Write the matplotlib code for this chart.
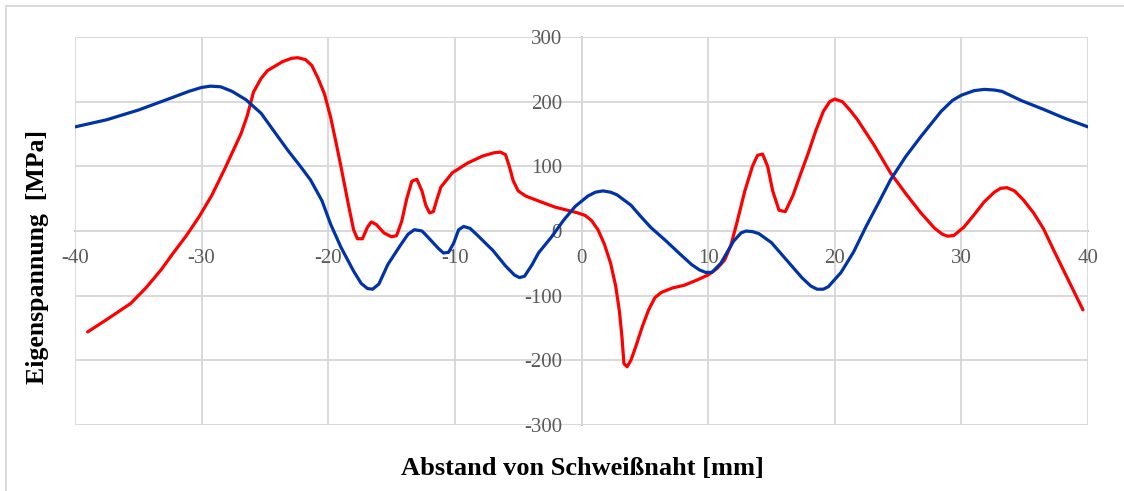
import matplotlib.pyplot as plt
from matplotlib.lines import Line2D

# Distance from weld seam [mm] and residual stress [MPa]
blue_x = [-40, -37.5, -35, -32.5, -31, -30, -29.3, -28.5, -27.6, -26.5, -25.3, -24.2, -23.2,
          -22.2, -21.4, -20.5, -19.8, -19, -18, -17.4, -16.9, -16.5, -16, -15.3, -14.3, -13.7,
          -13.2, -12.6, -12.2, -11.3, -10.9, -10.5, -10.1, -9.7, -9.3, -8.8, -8.3, -7, -6,
          -5.3, -4.9, -4.5, -3.9, -3.4, -2.4, -1.4, -0.5, 0.5, 1.1, 1.7, 2.3, 2.8, 3.9,
          4.7, 5.5, 6.6, 7.8, 8.7, 9.3, 9.8, 10.3, 11, 12, 12.6, 13, 13.5, 14, 15, 16.2,
          17.4, 18.1, 18.6, 19.1, 19.5, 20.5, 21.5, 22.5, 23.5, 24.4, 25.6, 26.8, 28.4, 29.3,
          30, 31, 31.8, 32.6, 33.2, 34.7, 36.5, 38.2, 40]
blue_y = [161, 172, 187, 205, 216, 222, 224, 223, 216, 203, 182, 152, 125,
          100, 79, 47, 10, -25, -62, -81, -89, -90, -82, -52, -22, -5,
          2, 0, -8, -27, -34, -33, -19, 2, 7, 4, -5, -30, -54,
          -68, -72, -70, -52, -34, -10, 17, 38, 54, 60, 62, 60, 56, 40,
          22, 5, -14, -36, -52, -60, -64, -64, -50, -16, -3, 0, -1, -4, -18, -45,
          -72, -85, -90, -90, -86, -64, -32, 8, 45, 79, 115, 146, 185, 202,
          210, 217, 219, 218, 216, 202, 188, 174, 161]

red_x = [-39, -37.5, -35.6, -34.4, -33.2, -32.2, -31.2, -30.2, -29.2, -28.2, -26.9, -26.4,
         -25.9, -25.3, -24.8, -23.6, -22.9, -22.4, -21.8, -21.3, -20.8, -20.3, -19.8, -19.4,
         -19, -18.4, -18, -17.7, -17.3, -16.9, -16.6, -16.2, -15.6, -15, -14.6, -14.2,
         -13.8, -13.4, -13, -12.6, -12.3, -12, -11.7, -11.4, -11.1, -10.2, -9, -7.8, -6.9,
         -6.4, -6, -5.7, -5.4, -5, -4.4, -3.2, -2.1, -1.1, -0.3, 0.3, 0.8, 1.3, 1.8, 2.3,
         2.7, 3.0, 3.2, 3.35, 3.6, 3.9, 4.3, 4.8, 5.3, 5.8, 6.3, 7.2, 8.1, 9.1, 10, 10.7,
         11.3, 11.8, 12.3, 12.9, 13.5, 13.9, 14.3, 14.7, 15.1, 15.6, 16.1, 16.7, 17.3,
         17.9, 18.5, 19.1, 19.6, 20, 20.6, 21.2, 21.8, 23.1, 24.4, 25.6, 26.8, 27.9, 28.5,
         28.9, 29.4, 30.2, 31, 31.8, 32.6, 33.1, 33.6, 34.2, 34.9, 35.7, 36.5, 37.3, 38.5,
         39.6]
red_y = [-156, -137, -112, -88, -60, -33, -7, 22, 55, 95, 150, 178,
         215, 236, 248, 262, 267, 268, 265, 256, 236, 212, 175, 138,
         100, 40, 2, -12, -12, 6, 14, 10, -3, -9, -7, 15,
         50, 77, 80, 62, 40, 28, 30, 50, 68, 90, 105, 116, 121,
         122, 118, 100, 78, 62, 54, 45, 37, 32, 28, 24, 16, 2, -20, -50,
         -85, -125, -165, -205, -210, -200, -178, -148, -122, -103, -95, -88, -84, -76, -68, -58,
         -45, -22, 15, 62, 100, 117, 119, 100, 62, 32, 30, 55, 88,
         120, 155, 185, 200, 204, 200, 187, 172, 133, 90, 58, 28, 4, -5,
         -8, -7, 6, 25, 45, 60, 66, 67, 62, 48, 28, 3, -30, -78,
         -122]

x_ticks = [-40, -30, -20, -10, 0, 10, 20, 30, 40]
y_ticks = [-300, -200, -100, 0, 100, 200, 300]

plt.rcParams["font.family"] = ["Liberation Serif", "DejaVu Serif"]
plt.rcParams["axes.unicode_minus"] = False

fig = plt.figure(figsize=(11.24, 4.91), dpi=100)
ax = fig.add_axes([75 / 1124, 1 - 425 / 491, 1013 / 1124, 388 / 491])

ax.plot(red_x, red_y, color="#FF0000", linewidth=2.3, solid_capstyle="round",
        solid_joinstyle="round", zorder=3)
ax.plot(blue_x, blue_y, color="#0033A8", linewidth=2.3, solid_capstyle="round",
        solid_joinstyle="round", zorder=4)

ax.set_xlim(-40, 40)
ax.set_ylim(-300, 300)
ax.set_xticks(x_ticks)
ax.set_yticks(y_ticks)

grid_color = "#D9D9D9"
ax.grid(True, color=grid_color, linewidth=1.4, zorder=0)
for line in ax.get_xgridlines() + ax.get_ygridlines():
    line.set_clip_on(False)

# axes cross at the origin
ax.spines["left"].set_position(("data", 0))
ax.spines["bottom"].set_position(("data", 0))
for side in ["left", "bottom"]:
    ax.spines[side].set_color("#BFBFBF")
    ax.spines[side].set_linewidth(1.4)
    ax.spines[side].set_zorder(1)
for side in ["top", "right"]:
    ax.spines[side].set_visible(False)

ax.tick_params(axis="both", length=0, labelsize=15, labelcolor="#595959")
ax.tick_params(axis="x", pad=13)
ax.tick_params(axis="y", pad=14)

fig.text(38 / 1124, 1 - 257 / 491, "Eigenspannung  [MPa]", rotation=90, ha="center",
         va="center", fontsize=18.5, fontweight="bold")
fig.text(582 / 1124, 1 - 468 / 491, "Abstand von Schweißnaht [mm]", ha="center",
         va="center", fontsize=19, fontweight="bold")

# outer chart frame (left and top edges visible)
fig.add_artist(Line2D([6 / 1124, 6 / 1124], [0, 1 - 6 / 491], color=grid_color, linewidth=1.4))
fig.add_artist(Line2D([6 / 1124, 1], [1 - 6 / 491, 1 - 6 / 491], color=grid_color, linewidth=1.4))

fig.savefig("out.png", dpi=100)
